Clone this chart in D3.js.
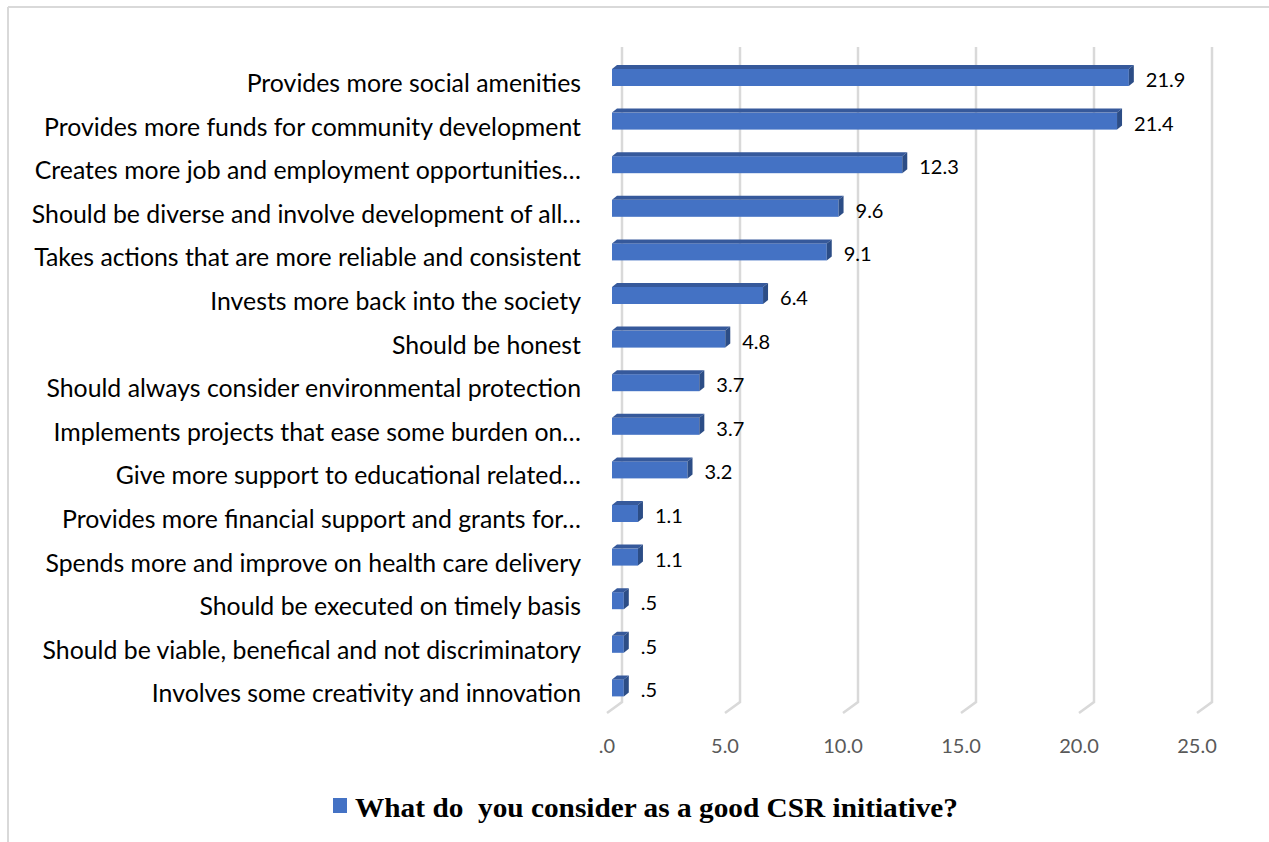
<!DOCTYPE html>
<html>
<head>
<meta charset="utf-8">
<script src="https://cdn.jsdelivr.net/npm/d3@7"></script>
<style>
  html, body { margin: 0; padding: 0; background: #fff; }
  svg { display: block; }
</style>
</head>
<body>
<svg id="chart" width="1269" height="842"></svg>
<script>
// Survey responses: share of respondents (%) per CSR initiative
const categories = [
  "Provides more social amenities",
  "Provides more funds for community development",
  "Creates more job and employment opportunities…",
  "Should be diverse and involve development of all…",
  "Takes actions that are more reliable and consistent",
  "Invests more back into the society",
  "Should be honest",
  "Should always consider environmental protection",
  "Implements projects that ease some burden on…",
  "Give more support to educational related…",
  "Provides more financial support and grants for…",
  "Spends more and improve on health care delivery",
  "Should be executed on timely basis",
  "Should be viable, benefical and not discriminatory",
  "Involves some creativity and innovation"
];
const values = [21.9, 21.4, 12.3, 9.6, 9.1, 6.4, 4.8, 3.7, 3.7, 3.2, 1.1, 1.1, 0.5, 0.5, 0.5];
const tickValues = [0, 5, 10, 15, 20, 25];
const seriesName = "What do  you consider as a good CSR initiative?";

const svg = d3.select("#chart");
const W = 1269, H = 842;

// formatting like "21.9", ".5", ".0"
const fmt = v => d3.format(".1f")(v).replace(/^0\./, ".");

// chart frame (top and left edges)
svg.append("line").attr("x1", 8).attr("y1", 7).attr("x2", W).attr("y2", 7)
  .attr("stroke", "#d9d9d9").attr("stroke-width", 2);
svg.append("line").attr("x1", 8).attr("y1", 7).attr("x2", 8).attr("y2", H)
  .attr("stroke", "#d9d9d9").attr("stroke-width", 2);

// three depth planes of the 3-D value axis
const xBack = d3.scaleLinear().domain([0, 25]).range([622, 1212]);
const xFront = d3.scaleLinear().domain([0, 25]).range([612, 1202]);
const xFloor = d3.scaleLinear().domain([0, 25]).range([607, 1197]);

const wallTop = 47, wallBottom = 702, floorFront = 713;

// gridlines on the back wall, folding onto the floor
svg.append("g").selectAll("path").data(tickValues).join("path")
  .attr("d", t => `M${xBack(t)},${wallTop}L${xBack(t)},${wallBottom}L${xFloor(t)},${floorFront}`)
  .attr("fill", "none").attr("stroke", "#d9d9d9").attr("stroke-width", 2.5);

// tick labels
svg.append("g").selectAll("text").data(tickValues).join("text")
  .attr("x", t => xFloor(t)).attr("y", 745)
  .attr("text-anchor", "middle").attr("dominant-baseline", "central")
  .attr("font-family", "Lato, 'Open Sans', sans-serif").attr("font-size", 20)
  .attr("fill", "#595959")
  .text(fmt);

// category bands
const step = 43.6;
const y = d3.scaleBand().domain(categories)
  .range([77.5 - step / 2, 77.5 - step / 2 + step * categories.length])
  .paddingInner(0).paddingOuter(0);
const cy = c => y(c) + y.bandwidth() / 2;

const barH = 17, dx = 5, dy = 4;
const data = categories.map((c, i) => ({ c, v: values[i] }));

const bars = svg.append("g").selectAll("g").data(data).join("g");
// front face
bars.append("rect")
  .attr("x", xFront(0)).attr("y", d => cy(d.c) - barH / 2)
  .attr("width", d => xFront(d.v) - xFront(0)).attr("height", barH)
  .attr("fill", "#4472C4");
// top face
bars.append("path")
  .attr("d", d => {
    const x0 = xFront(0), x1 = xFront(d.v), yt = cy(d.c) - barH / 2;
    return `M${x0},${yt}L${x0 + dx},${yt - dy}L${x1 + dx},${yt - dy}L${x1},${yt}Z`;
  })
  .attr("fill", "#36599b");
// side face
bars.append("path")
  .attr("d", d => {
    const x1 = xFront(d.v), yt = cy(d.c) - barH / 2, yb = yt + barH;
    return `M${x1},${yt}L${x1 + dx},${yt - dy}L${x1 + dx},${yb - dy}L${x1},${yb}Z`;
  })
  .attr("fill", "#2c4d86");

// value labels
bars.append("text")
  .attr("x", d => xFront(d.v) + 17).attr("y", d => cy(d.c) + 1.5)
  .attr("dominant-baseline", "central")
  .attr("font-family", "Lato, 'Open Sans', sans-serif").attr("font-size", 20)
  .attr("fill", "#000")
  .text(d => fmt(d.v));

// category labels, sized so the longest one spans the label column
const catG = svg.append("g");
const catText = catG.selectAll("text").data(categories).join("text")
  .attr("x", 581).attr("y", c => cy(c) + 4.5)
  .attr("text-anchor", "end").attr("dominant-baseline", "central")
  .attr("font-family", "Lato, 'Open Sans', sans-serif").attr("font-size", 20)
  .attr("fill", "#000")
  .text(c => c);
const probe = catText.filter(c => c === "Provides more funds for community development").node();
const w0 = probe.getComputedTextLength();
catText.attr("font-size", 20 * 537 / w0);

// legend
const lg = svg.append("g");
lg.append("rect").attr("x", 333).attr("y", 798).attr("width", 14).attr("height", 15)
  .attr("fill", "#4472C4");
lg.append("text")
  .attr("x", 355).attr("y", 807)
  .attr("dominant-baseline", "central")
  .attr("font-family", "'Liberation Serif', 'Times New Roman', serif")
  .attr("font-weight", "bold").attr("font-size", 28)
  .attr("fill", "#000")
  .attr("textLength", 603).attr("lengthAdjust", "spacingAndGlyphs")
  .style("white-space", "pre")
  .text(seriesName);
</script>
</body>
</html>
